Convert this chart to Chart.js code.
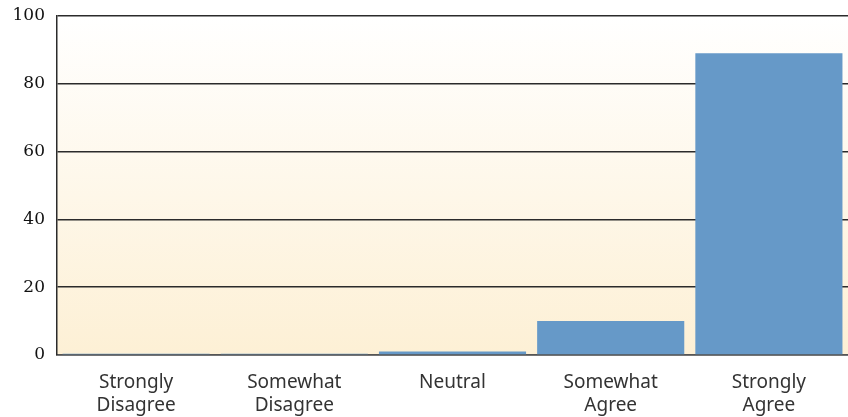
<!DOCTYPE html>
<html>
<head>
<meta charset="utf-8">
<script src="https://cdn.jsdelivr.net/npm/chart.js@4"></script>
<style>
  html, body { margin: 0; padding: 0; background: #fff; }
  #wrap { width: 848px; height: 417px; }
</style>
</head>
<body>
<div id="wrap"><canvas id="chart" width="848" height="417"></canvas></div>
<script>
// categories and values
const categories = [
    ['Strongly', 'Disagree'],
    ['Somewhat', 'Disagree'],
    ['Neutral'],
    ['Somewhat', 'Agree'],
    ['Strongly', 'Agree']
];
const responses = [0.4, 0.4, 1, 10, 89];
const yTicks = [0, 20, 40, 60, 80, 100];

const BAR_COLOR = '#6699c8';

// cream gradient behind the plot
const bgPlugin = {
    id: 'plotBg',
    beforeDraw(chart) {
        const { ctx, chartArea: a } = chart;
        const g = ctx.createLinearGradient(0, a.top, 0, a.bottom);
        g.addColorStop(0, '#ffffff');
        g.addColorStop(1, '#fdf0d5');
        ctx.save();
        ctx.fillStyle = g;
        ctx.fillRect(a.left, a.top, a.right - a.left, a.bottom - a.top);
        ctx.restore();
    }
};

new Chart(document.getElementById('chart'), {
    type: 'bar',
    data: {
        labels: categories,
        datasets: [{
            data: responses,
            backgroundColor: BAR_COLOR,
            barPercentage: 0.93,
            categoryPercentage: 1
        }]
    },
    options: {
        animation: false,
        responsive: false,
        layout: { padding: { top: 16, right: 0, left: 0, bottom: 0 } },
        plugins: { legend: { display: false }, tooltip: { enabled: false } },
        scales: {
            x: {
                grid: { display: false, drawTicks: false },
                border: { color: '#555', width: 1.5 },
                ticks: {
                    padding: 16,
                    color: '#333',
                    maxRotation: 0,
                    font: { family: 'Noto Sans', size: 19, lineHeight: 1.2 }
                },
                afterFit: s => { s.height = 62; s.paddingLeft = 0; s.paddingRight = 0; }
            },
            y: {
                min: 0,
                max: 100,
                afterBuildTicks: s => { s.ticks = yTicks.map(v => ({ value: v })); },
                grid: { color: '#2b2b2b', lineWidth: 1.5, drawTicks: false },
                border: { color: '#2b2b2b', width: 1.5 },
                ticks: {
                    padding: 12,
                    color: '#111',
                    font: { family: 'DejaVu Serif', size: 17 }
                },
                afterFit: s => { s.width = 57; s.paddingTop = 0; s.paddingBottom = 0; }
            }
        }
    },
    plugins: [bgPlugin]
});
</script>
</body>
</html>
